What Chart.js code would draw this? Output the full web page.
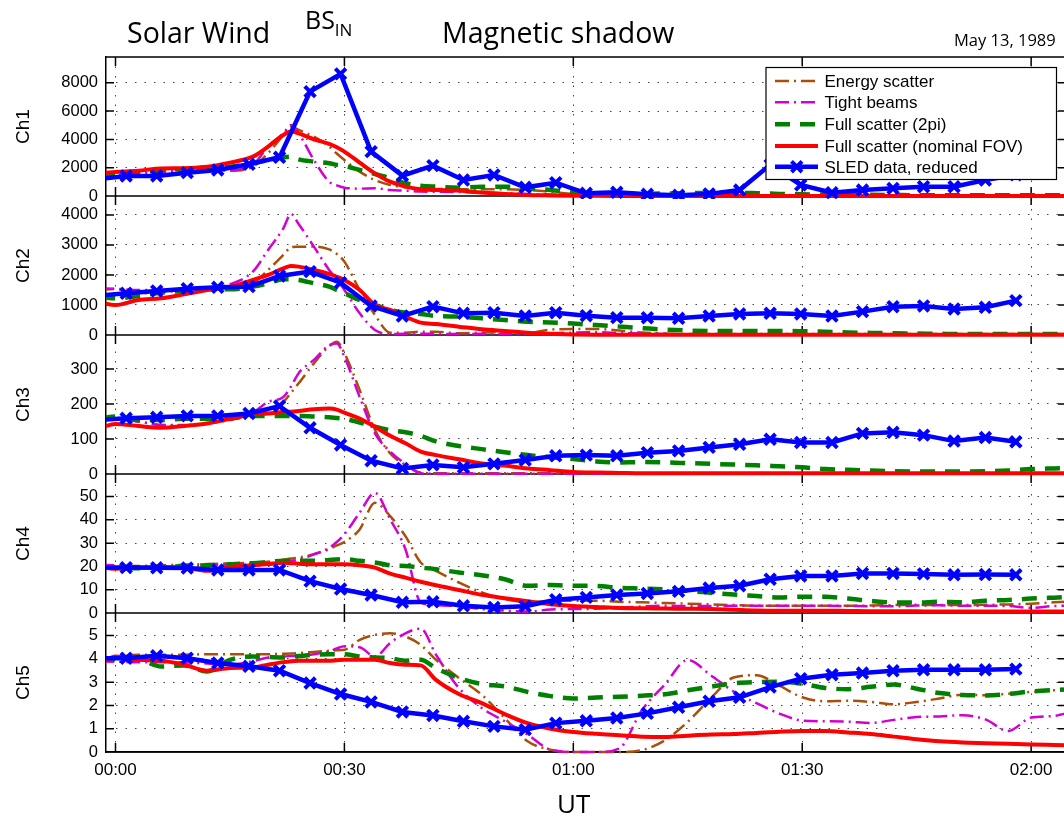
<!DOCTYPE html>
<html>
<head>
<meta charset="utf-8">
<title>SLED data vs. scatter models, May 13, 1989</title>
<script src="https://cdn.jsdelivr.net/npm/chart.js@4.4.1/dist/chart.umd.min.js"></script>
<style>
html,body{margin:0;padding:0;background:#fff;}
body{width:1064px;height:816px;overflow:hidden;position:relative;}
#box{position:absolute;left:0;top:0;}
.t{position:absolute;white-space:nowrap;line-height:1;color:#000;font-family:'Open Sans',sans-serif;}
</style>
</head>
<body>
<div id="box"><canvas id="chart" width="1068" height="816"></canvas></div>
<div class="t" style="left:127px;top:18px;font-size:28.5px">Solar Wind</div>
<div class="t" style="left:305px;top:7px;font-size:25px">BS<span style="font-size:17px;position:relative;top:7px">IN</span></div>
<div class="t" style="left:442px;top:18px;font-size:28.5px">Magnetic shadow</div>
<div class="t" style="left:954px;top:32px;font-size:16.5px">May 13, 1989</div>
<div class="t" style="left:557px;top:790px;font-size:26px">UT</div>

<script>
// time axis, minutes after 00:00 UT
const xTickValues = [0, 30, 60, 90, 120];
const xTickLabels = ['00:00', '00:30', '01:00', '01:30', '02:00'];

// y ticks per channel
const ch1Ticks = [0, 2000, 4000, 6000, 8000];
const ch2Ticks = [0, 1000, 2000, 3000, 4000];
const ch3Ticks = [0, 100, 200, 300];
const ch4Ticks = [0, 10, 20, 30, 40, 50];
const ch5Ticks = [0, 1, 2, 3, 4, 5];

// model curves are sampled on this grid (minutes)
const tModel = [-2,0,3,6,9,12,15,18,20,22,23,24,26,28,29,30,32,34,36,38,40,42,45,48,51,54,
                57,60,63,66,69,72,75,78,81,84,87,90,93,96,99,102,105,108,111,114,117,120,123,126];
// SLED reduced samples (minutes)
const tSled = [-2.6,1.4,5.4,9.4,13.4,17.5,21.5,25.5,29.5,33.5,37.6,41.6,45.6,49.6,53.7,
               57.7,61.7,65.7,69.7,73.8,77.8,81.8,85.8,89.8,93.9,97.9,101.9,105.9,109.9,114.0,118.0];

// Ch1
const ch1Energy = [1600,1600,1700,1750,1800,1840,1790,2070,3020,4310,4900,4670,4200,3490,3000,2545,1720,1130,780,610,520,500,470,470,470,420,
                   300,150,80,50,30,30,30,30,30,30,30,30,30,30,30,30,30,30,30,30,30,30,30,30];
const ch1Tight = [1480,1500,1600,1700,1750,1800,1840,2200,3490,4430,5020,4430,2545,1010,750,590,520,540,420,380,310,300,280,250,200,150,
                  100,50,30,20,20,20,20,20,20,20,20,20,20,20,20,20,20,20,20,20,20,20,20,20];
const ch1Full2pi = [1350,1430,1600,1840,1910,2000,2070,2310,2545,2730,2780,2590,2430,2310,2200,2120,1840,1555,1250,900,730,660,590,660,660,540,
                    420,250,150,120,150,180,200,230,230,200,150,120,100,90,80,70,60,60,60,60,60,60,60,60];
const ch1Nominal = [1620,1700,1790,1950,1960,2070,2360,2780,3490,4310,4550,4430,4010,3680,3450,3140,2360,1600,1010,660,470,420,380,240,140,70,
                    40,20,10,5,5,5,5,5,5,5,5,5,5,5,5,5,5,5,5,5,5,5,5,5];
const ch1Sled = [1165,1414,1414,1650,1838,2240,2735,7376,8626,3134,1437,2144,1131,1485,612,
                 940,190,260,120,50,150,420,2200,780,235,420,540,660,660,1130,1500];

// Ch2
const ch2Energy = [1500,1530,1389,1420,1500,1555,1555,1722,2167,2667,2922,2940,2944,2850,2700,2444,1500,667,78,78,111,111,55,80,100,60,
                   180,200,200,150,80,50,30,30,30,30,30,30,30,30,30,30,30,30,30,30,30,30,30,30];
const ch2Tight = [1555,1540,1500,1500,1500,1555,1689,2111,2833,3555,4033,3700,2944,2167,1850,1500,722,167,33,40,40,40,30,40,30,40,
                  60,80,90,70,50,30,20,20,20,20,20,20,20,20,20,20,20,20,20,20,20,20,20,20];
const ch2Full2pi = [1255,1222,1300,1411,1467,1533,1522,1611,1722,1855,1855,1833,1722,1611,1500,1389,1167,1000,833,744,700,633,611,555,500,444,
                    420,380,330,280,230,180,150,135,133,133,133,125,111,85,70,58,50,40,33,33,33,33,33,33];
const ch2Nominal = [1080,1000,1167,1222,1355,1500,1611,1833,2000,2222,2300,2278,2167,2033,1940,1833,1500,1000,833,611,411,367,278,189,133,78,
                    40,20,10,5,5,5,5,5,5,5,5,5,5,5,5,5,5,5,5,5,5,5,5,5];
const ch2Sled = [1305,1389,1467,1544,1589,1611,1967,2111,1744,967,633,944,722,744,633,
                 744,644,578,577,556,633,700,722,700,633,778,944,967,867,922,1144];

// Ch3
const ch3Energy = [159,160,150,140,139,145,154,171,183,206,232,259,316,365,378,345,240,126,59,26,4,2,2,2,2,2,
                   2,2,2,2,2,2,2,2,2,2,2,2,2,2,2,2,2,2,2,2,2,2,2,2];
const ch3Tight = [159,158,150,140,140,145,155,175,206,220,250,288,326,368,373,335,220,116,64,29,2,1,1,1,1,1,
                  1,1,1,1,1,1,1,1,1,1,1,1,1,1,1,1,1,1,1,1,1,1,1,1];
const ch3Full2pi = [159,164,154,154,158,158,159,166,166,166,166,166,164,162,160,158,147,135,125,119,109,93,80,71,62,54,
                    48,43,36,33,34,33,31,29,27,25,22,19,14,12,10,8,7,7,7,8,10,14,16,18];
const ch3Nominal = [132,143,137,132,137,144,158,171,173,177,178,180,185,187,184,175,158,135,109,88,64,54,42,30,24,16,
                    11,6,4,3,2,2,2,2,2,2,2,2,2,2,2,2,2,2,2,2,2,2,2,2];
const ch3Sled = [154,159,162,166,166,173,194,132,83,38,16,26,19,29,40,
                 52,54,52,61,66,76,85,99,90,90,116,119,111,94,104,92];

// Ch4
const ch4Energy = [20.2,20.3,20.2,20.5,20.7,21.0,21.3,21.6,22.0,22.9,23.4,23.8,25.2,27.4,29.0,30.5,35.9,47.3,41.6,33.0,21.7,18.1,13.1,8.8,6.0,4.6,
                   5.2,5.3,5.3,4.8,4.6,4.3,4.0,3.7,3.4,3.1,3.1,3.1,3.1,3.1,3.2,3.4,3.5,3.4,3.4,3.5,3.7,4.0,4.6,5.0];
const ch4Tight = [20.6,20.5,19.8,19.5,20.0,20.2,20.9,21.2,21.5,22.0,22.4,22.9,25.2,28.0,30.5,33.8,43.1,51.6,40.2,27.4,4.6,3.4,2.9,1.7,1.0,0.6,
                  1.5,1.7,1.8,2.3,2.8,3.1,3.0,3.0,3.1,3.1,3.1,3.1,3.1,3.0,2.9,2.9,3.2,3.3,3.1,3.1,3.0,2.2,3.0,3.1];
const ch4Full2pi = [19.5,19.3,19.2,19.7,20.2,20.5,20.9,21.4,21.9,22.4,22.4,22.4,22.4,22.8,23.0,23.1,22.4,21.7,20.5,20.2,19.5,18.8,17.4,16.2,14.5,11.7,
                    12.0,11.7,11.6,10.8,10.5,10.1,9.5,8.7,7.9,7.3,6.7,7.0,7.0,6.2,5.2,4.5,4.5,4.8,4.6,5.3,5.6,6.2,6.6,7.0];
const ch4Nominal = [19.8,19.0,19.5,19.8,19.5,18.1,19.8,20.5,21.0,21.6,21.4,21.2,20.9,20.9,20.9,20.9,20.5,19.5,16.9,15.2,13.4,11.9,9.9,7.8,6.3,5.0,
                    3.8,3.0,2.6,2.2,2.0,1.9,1.8,1.7,1.4,1.1,1.0,1.0,1.0,0.9,0.8,0.8,0.7,0.6,0.6,0.6,0.6,0.6,0.6,0.6];
const ch4Sled = [19.5,19.5,19.4,19.3,18.5,18.5,18.5,13.7,10.3,7.7,4.6,4.8,3.1,2.4,2.9,
                 5.7,6.7,7.7,8.4,9.3,10.7,11.7,14.5,15.9,15.9,17.0,17.0,16.8,16.4,16.5,16.4];

// Ch5
const ch5Energy = [4.03,4.08,4.18,4.18,4.18,4.2,4.2,4.2,4.2,4.22,4.23,4.25,4.3,4.35,4.37,4.39,4.82,5.03,5.1,4.96,4.6,3.96,3.18,2.46,1.46,0.46,
                   0.1,0,0,0,0.08,0.5,1.3,2.3,3.2,3.3,2.85,2.35,2.18,2.2,2.15,2.05,2.15,2.3,2.46,2.44,2.5,2.58,2.65,2.68];
const ch5Tight = [3.89,3.88,3.85,3.85,3.85,3.8,3.75,3.9,4.06,4.1,4.12,4.13,4.2,4.32,4.45,4.54,4.5,4.1,4.68,5.1,5.3,4.18,2.75,1.89,1.32,0.75,
                  0.1,0,0,0.15,1.8,2.9,3.95,3.3,2.6,2.1,1.65,1.35,1.32,1.3,1.25,1.38,1.5,1.53,1.58,1.4,0.9,1.48,1.55,1.8];
const ch5Full2pi = [3.96,3.98,3.96,3.67,3.72,3.46,3.96,4.1,4.08,4.06,4.1,4.12,4.18,4.2,4.2,4.2,4.1,4.06,4.03,3.92,3.96,3.6,3.18,2.92,2.82,2.58,
                    2.4,2.3,2.34,2.37,2.42,2.48,2.65,2.8,2.95,3.0,3.02,2.93,2.75,2.7,2.8,2.9,2.72,2.53,2.45,2.43,2.49,2.6,2.66,2.7];
const ch5Nominal = [3.78,4.1,3.96,3.92,3.75,3.49,3.61,3.63,3.75,3.86,3.9,3.92,3.92,3.92,3.94,3.96,3.96,3.96,3.82,3.75,3.72,3.1,2.49,2.1,1.63,1.24,
                    1.0,0.86,0.78,0.72,0.66,0.64,0.7,0.75,0.77,0.82,0.87,0.9,0.9,0.84,0.77,0.66,0.55,0.46,0.41,0.38,0.35,0.32,0.3,0.28];
const ch5Sled = [4.03,4.03,4.13,4.03,3.82,3.68,3.49,2.96,2.49,2.15,1.72,1.57,1.32,1.1,0.96,
                 1.24,1.34,1.46,1.66,1.92,2.18,2.35,2.79,3.15,3.32,3.39,3.49,3.53,3.53,3.53,3.56];

// legend order = plot order
const seriesStyle = [
  {label:'Energy scatter', color:'rgb(170,78,12)', width:2.5, dash:[14,5,2,5], order:4},
  {label:'Tight beams', color:'rgb(210,0,210)', width:2.5, dash:[14,5,2,5], order:3},
  {label:'Full scatter (2pi)', color:'rgb(0,128,0)', width:4.5, dash:[15,10], order:2},
  {label:'Full scatter (nominal FOV)', color:'rgb(255,0,0)', width:4, dash:[], order:1},
  {label:'SLED data, reduced', color:'rgb(0,0,255)', width:4.5, dash:[], order:0, marker:true}
];

const panels = [
  {id:'y1', name:'Ch1', max:9820, ticks:ch1Ticks, series:[ch1Energy, ch1Tight, ch1Full2pi, ch1Nominal, ch1Sled]},
  {id:'y2', name:'Ch2', max:4630, ticks:ch2Ticks, series:[ch2Energy, ch2Tight, ch2Full2pi, ch2Nominal, ch2Sled]},
  {id:'y3', name:'Ch3', max:397, ticks:ch3Ticks, series:[ch3Energy, ch3Tight, ch3Full2pi, ch3Nominal, ch3Sled]},
  {id:'y4', name:'Ch4', max:59.7, ticks:ch4Ticks, series:[ch4Energy, ch4Tight, ch4Full2pi, ch4Nominal, ch4Sled]},
  {id:'y5', name:'Ch5', max:5.97, ticks:ch5Ticks, series:[ch5Energy, ch5Tight, ch5Full2pi, ch5Nominal, ch5Sled]}
];

const fontFamily = '"Liberation Sans", Arial, sans-serif';

function pts(ts, vs) {
  return ts.map((t, i) => ({x:t, y:vs[i]}));
}

// build datasets, one per channel and series
const datasets = [];
panels.forEach(p => {
  p.series.forEach((vals, k) => {
    const st = seriesStyle[k];
    const ds = {
      label: p.name + ' ' + st.label,
      data: pts(st.marker ? tSled : tModel, vals),
      yAxisID: p.id,
      xAxisID: 'x',
      borderColor: st.color,
      borderWidth: st.width,
      borderDash: st.dash,
      fill: false,
      order: st.order,
      clip: {left:0, right:0, top:3, bottom:3},
      pointRadius: 0
    };
    if (st.marker) {
      ds.tension = 0;
      ds.pointStyle = 'crossRot';
      ds.pointRadius = 7.5;
      ds.pointBorderWidth = 4;
      ds.pointBorderColor = st.color;
    } else {
      ds.cubicInterpolationMode = 'monotone';
      ds.borderJoinStyle = 'round';
    }
    datasets.push(ds);
  });
});

const scales = {
  x: {
    type:'linear', position:'bottom', min:-1.245, max:124.57,
    afterBuildTicks: s => { s.ticks = xTickValues.map(v => ({value:v})); },
    afterFit: s => { s.height = 64; },
    ticks: {color:'#000', font:{family:fontFamily, size:17}, padding:8, maxRotation:0, autoSkip:false,
            callback: v => xTickLabels[xTickValues.indexOf(v)]},
    grid: {color:'#444', lineWidth:1, drawTicks:false},
    border: {display:true, color:'#000', width:1.5, dash:[1.5,8]}
  }
};
panels.forEach((p, k) => {
  scales[p.id] = {
    type:'linear', position:'left', stack:'ch', stackWeight:1, weight:panels.length - k,
    min:0, max:p.max,
    afterBuildTicks: s => { s.ticks = p.ticks.map(v => ({value:v})); },
    afterFit: s => { s.width = 106; },
    ticks: {color:'#000', font:{family:fontFamily, size:16.5}, padding:8, autoSkip:false,
            callback: v => String(v)},
    grid: {drawTicks:false, lineWidth:1,
           color: c => (c.tick && c.tick.value === 0) ? 'rgba(0,0,0,0)' : '#444'},
    border: {display:true, color:'#000', width:1.5, dash:[1.5,8]},
    title: {display:true, text:p.name, color:'#000',
            font:{family:fontFamily, size:19}, padding:{top:12.6, bottom:0}}
  };
});

// panel frames, separators and inward tick marks
const framePlugin = {
  id:'frame',
  beforeDatasetsDraw(chart) {
    const ctx = chart.ctx;
    const a = chart.chartArea;
    const xs = chart.scales.x;
    ctx.save();
    ctx.strokeStyle = '#000';
    ctx.lineWidth = 1.5;
    ctx.setLineDash([]);
    ctx.beginPath();
    ctx.moveTo(a.left, a.top); ctx.lineTo(a.right, a.top); ctx.lineTo(a.right, a.bottom);
    panels.forEach(p => {
      const s = chart.scales[p.id];
      ctx.moveTo(a.left, s.bottom); ctx.lineTo(a.right, s.bottom);
      p.ticks.forEach(v => {
        if (v === 0) return;
        const y = s.getPixelForValue(v);
        ctx.moveTo(a.left, y); ctx.lineTo(a.left + 8, y);
        ctx.moveTo(a.right, y); ctx.lineTo(a.right - 8, y);
      });
      xTickValues.forEach(v => {
        const x = xs.getPixelForValue(v);
        ctx.moveTo(x, s.bottom); ctx.lineTo(x, s.bottom - 9);
        ctx.moveTo(x, s.top); ctx.lineTo(x, s.top + 9);
      });
    });
    ctx.stroke();
    ctx.restore();
  }
};

// legend box sitting inside the Ch1 panel
const legendRows = [81, 102.3, 124.3, 146, 166.7];
const legendPlugin = {
  id:'boxLegend',
  afterDatasetsDraw(chart) {
    const ctx = chart.ctx;
    ctx.save();
    ctx.fillStyle = '#fff';
    ctx.fillRect(766, 67.5, 290.5, 112);
    ctx.strokeStyle = '#000';
    ctx.lineWidth = 1.2;
    ctx.strokeRect(766, 67.5, 290.5, 112);
    ctx.font = '17px ' + fontFamily;
    seriesStyle.forEach((st, i) => {
      const y = legendRows[i];
      ctx.strokeStyle = st.color;
      ctx.lineWidth = st.width;
      ctx.setLineDash(st.dash);
      ctx.beginPath(); ctx.moveTo(775, y); ctx.lineTo(818, y); ctx.stroke();
      ctx.setLineDash([]);
      if (st.marker) {
        ctx.lineWidth = 4;
        ctx.beginPath();
        ctx.moveTo(791.5, y - 5.3); ctx.lineTo(802, y + 5.3);
        ctx.moveTo(791.5, y + 5.3); ctx.lineTo(802, y - 5.3);
        ctx.stroke();
      }
      ctx.fillStyle = '#000';
      ctx.fillText(st.label, 824.5, y + 6);
    });
    ctx.restore();
  }
};

new Chart(document.getElementById('chart'), {
  type:'line',
  data:{datasets:datasets},
  options:{
    responsive:false,
    animation:false,
    devicePixelRatio:1,
    layout:{autoPadding:false, padding:{top:57, right:2, left:0, bottom:0}},
    plugins:{legend:{display:false}, tooltip:{enabled:false}},
    scales:scales
  },
  plugins:[framePlugin, legendPlugin]
});
</script>
</body>
</html>
